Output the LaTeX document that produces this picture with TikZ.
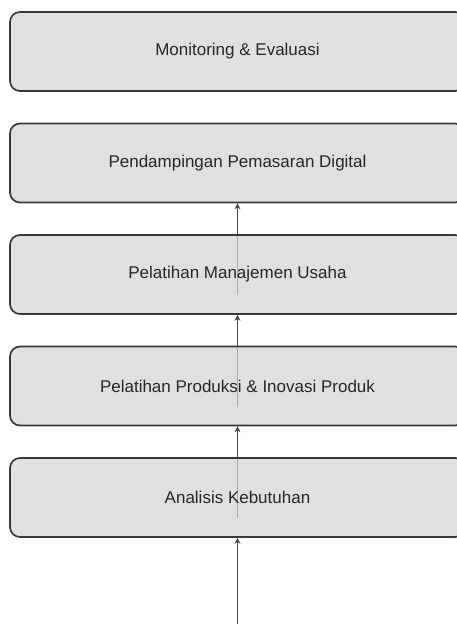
\documentclass[tikz,border=0pt]{standalone}
\usepackage{fontspec}
\setmainfont{Liberation Sans}
\usetikzlibrary{arrows.meta}
\pgfdeclarelayer{background}
\pgfsetlayers{background,main}
\definecolor{boxfill}{HTML}{D3D3D3}
\definecolor{boxline}{HTML}{383838}
\definecolor{arrline}{HTML}{454545}
\definecolor{txt}{HTML}{262626}
\tikzset{
  stepbox/.style={draw=boxline, line width=1.7pt, fill=boxfill, fill opacity=0.7, text opacity=1,
    draw opacity=1, rounded corners=10pt, minimum width=455pt, minimum height=79pt, inner sep=0pt,
    text=txt, font=\fontsize{17}{20}\selectfont},
  flow/.style={draw=arrline, line width=1.6pt, -{Stealth[length=6pt,width=6pt]}}
}
\begin{document}
\begin{tikzpicture}[x=1pt,y=-1pt]
\useasboundingbox (0,0) rectangle (457,624);
\node[stepbox] (b1) at (237.5,51.5) {Monitoring \& Evaluasi};
\node[stepbox] (b2) at (237.5,163) {Pendampingan Pemasaran Digital};
\node[stepbox] (b3) at (237.5,274.5) {Pelatihan Manajemen Usaha};
\node[stepbox] (b4) at (237.5,386) {Pelatihan Produksi \& Inovasi Produk};
\node[stepbox] (b5) at (237.5,497.5) {Analisis Kebutuhan};
\coordinate (start) at (237.5,624);
\coordinate (s5) at ([yshift=-20pt]b5.center);
\coordinate (s4) at ([yshift=-21pt]b4.center);
\coordinate (s3) at ([yshift=-20pt]b3.center);
\begin{pgfonlayer}{background}
\draw[flow] (start) -- (b5.south);
\draw[flow] (s5) -- (b4.south);
\draw[flow] (s4) -- (b3.south);
\draw[flow] (s3) -- (b2.south);
\end{pgfonlayer}
\end{tikzpicture}
\end{document}
